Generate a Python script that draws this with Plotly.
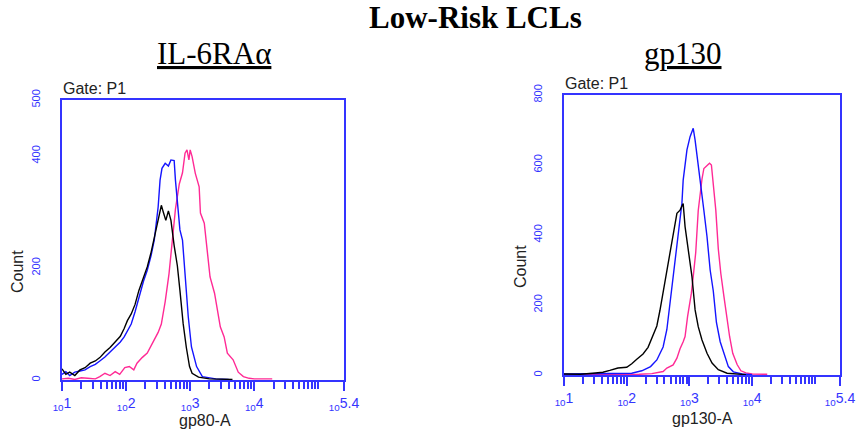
import numpy as np
import plotly.graph_objects as go

# ---------------- data (log10 fluorescence, count) ----------------
# Left panel: IL-6RAα (gp80-A)
L_black_log = [1.00, 1.06, 1.12, 1.20, 1.28, 1.36, 1.44, 1.52, 1.59, 1.67, 1.75, 1.83, 1.91, 1.97,
               2.02, 2.08, 2.14, 2.20, 2.27, 2.33, 2.39, 2.44, 2.50, 2.55, 2.58, 2.62, 2.66, 2.70,
               2.75, 2.80, 2.84, 2.89, 2.94, 2.99, 3.03, 3.13, 3.30, 3.50, 3.66]
L_black_cnt = [20, 10, 14, 8, 18, 22, 30, 34, 40, 50, 58, 68, 78, 92,
               106, 118, 135, 160, 185, 202, 228, 255, 290, 312, 300, 285, 302, 285,
               240, 204, 160, 101, 58, 24, 12, 5, 2, 1, 1]

L_blue_log = [1.00, 1.06, 1.12, 1.20, 1.28, 1.36, 1.44, 1.52, 1.59, 1.67, 1.75, 1.83, 1.91, 1.97,
              2.02, 2.08, 2.14, 2.20, 2.27, 2.33, 2.39, 2.44, 2.50, 2.53, 2.56, 2.61, 2.66, 2.70,
              2.75, 2.77, 2.81, 2.84, 2.88, 2.92, 2.97, 3.02, 3.10, 3.19, 3.40, 3.60]
L_blue_cnt = [10, 15, 8, 14, 16, 18, 24, 28, 34, 41, 50, 59, 68, 77,
              88, 100, 122, 148, 176, 196, 222, 250, 309, 357, 378, 387, 382, 393,
              392, 357, 309, 268, 250, 190, 113, 59, 24, 6, 2, 1]

L_pink_log = [1.00, 1.10, 1.20, 1.30, 1.40, 1.52, 1.59, 1.67, 1.75, 1.83, 1.90, 1.98, 2.05, 2.12,
              2.17, 2.25, 2.33, 2.42, 2.50, 2.55, 2.61, 2.67, 2.72, 2.77, 2.83, 2.88, 2.92, 2.95,
              2.98, 3.00, 3.03, 3.08, 3.14, 3.16, 3.22, 3.27, 3.31, 3.38, 3.42, 3.47, 3.53, 3.58,
              3.67, 3.75, 3.83, 3.92, 4.00, 4.28]
L_pink_cnt = [2, 3, 1, 4, 3, 2, 6, 12, 8, 15, 10, 22, 24, 18,
              30, 40, 48, 68, 85, 100, 140, 190, 250, 305, 350, 370, 405, 411,
              393, 411, 399, 369, 345, 298, 280, 220, 184, 155, 130, 95, 77, 48,
              36, 14, 6, 3, 2, 2]

# Right panel: gp130 (gp130-A)
R_black_log = [1.00, 1.26, 1.46, 1.62, 1.73, 1.86, 2.00, 2.08, 2.16, 2.26, 2.34, 2.42, 2.48, 2.53,
               2.58, 2.64, 2.69, 2.74, 2.80, 2.85, 2.87, 2.90, 2.93, 2.98, 3.04, 3.09, 3.14, 3.20,
               3.28, 3.36, 3.46, 3.60, 3.76, 3.90]
R_black_cnt = [3, 2, 5, 8, 13, 20, 22, 32, 45, 60, 79, 112, 140, 185,
               235, 290, 345, 400, 462, 471, 478, 490, 424, 357, 281, 186, 138, 100,
               62, 34, 15, 5, 2, 1]

R_blue_log = [1.00, 1.50, 2.00, 2.08, 2.24, 2.38, 2.48, 2.58, 2.64, 2.69, 2.74, 2.77, 2.82, 2.88,
              2.90, 2.96, 3.01, 3.04, 3.06, 3.09, 3.11, 3.13, 3.18, 3.23, 3.28, 3.33, 3.38, 3.43,
              3.49, 3.55, 3.62, 3.70, 3.84, 4.00]
R_blue_cnt = [3, 3, 3, 5, 12, 24, 43, 80, 130, 205, 270, 320, 395, 491,
              557, 643, 681, 695, 705, 671, 640, 610, 545, 470, 395, 300, 240, 150,
              95, 62, 24, 9, 3, 1]

R_pink_log = [1.00, 1.50, 2.00, 2.20, 2.40, 2.50, 2.58, 2.64, 2.69, 2.74, 2.80, 2.85, 2.90, 2.93,
              2.97, 3.03, 3.06, 3.10, 3.14, 3.17, 3.20, 3.23, 3.28, 3.32, 3.35, 3.39, 3.42, 3.46,
              3.50, 3.55, 3.60, 3.64, 3.69, 3.76, 3.82, 3.90, 4.00, 4.24]
R_pink_cnt = [1, 2, 1, 2, 4, 8, 10, 20, 24, 29, 48, 75, 95, 110,
              167, 233, 281, 350, 470, 520, 560, 590, 600, 605, 600, 530, 471, 360,
              290, 224, 160, 110, 62, 30, 12, 6, 3, 2]

x_major_exp = [1, 2, 3, 4, 5.4]
x_major_text = ["1", "2", "3", "4", "5.4"]
L_yticks = [0, 200, 400, 500]
R_yticks = [0, 200, 400, 600, 800]

# ---------------- styling ----------------
AX_BLUE = "#3434ff"
BLACK = "#000000"
BLUE = "#1414ff"
PINK = "#ff2a95"
SANS = "Liberation Sans, Arial, sans-serif"
SERIF = "Liberation Serif, Times New Roman, serif"
W, H = 856, 432

def px2x(p):
    return p / W

def px2y(p):
    return 1 - p / H

fig = go.Figure()

def add(logs, cnts, color, ax):
    fig.add_trace(go.Scatter(
        x=[10 ** v for v in logs], y=cnts, mode="lines",
        line=dict(color=color, width=1.4), xaxis=ax[0], yaxis=ax[1],
        showlegend=False, hoverinfo="skip"))

add(L_pink_log, L_pink_cnt, PINK, ("x", "y"))
add(L_blue_log, L_blue_cnt, BLUE, ("x", "y"))
add(L_black_log, L_black_cnt, BLACK, ("x", "y"))
add(R_pink_log, R_pink_cnt, PINK, ("x2", "y2"))
add(R_blue_log, R_blue_cnt, BLUE, ("x2", "y2"))
add(R_black_log, R_black_cnt, BLACK, ("x2", "y2"))

minor_vals = [m * 10 ** d for d in range(1, 5) for m in range(2, 10)] + [1e5]

def xaxis(domain, anchor):
    return dict(
        type="log", range=[1, 5.4], domain=domain, anchor=anchor, automargin=False,
        showgrid=False, zeroline=False,
        showline=True, linecolor=AX_BLUE, linewidth=2, mirror=True,
        tickmode="array", tickvals=[10 ** e for e in x_major_exp],
        ticktext=["<sub>10</sub>" + t for t in x_major_text],
        ticks="outside", ticklen=9, tickwidth=1.5, tickcolor=AX_BLUE,
        tickfont=dict(family=SANS, size=14, color=AX_BLUE),
        minor=dict(tickvals=minor_vals, ticks="outside", ticklen=7,
                   tickwidth=1.5, tickcolor=AX_BLUE, showgrid=False),
    )

def yaxis(domain, anchor, rng, ticks):
    return dict(
        range=rng, domain=domain, anchor=anchor, automargin=False,
        showgrid=False, zeroline=False,
        showline=True, linecolor=AX_BLUE, linewidth=2, mirror=True,
        tickmode="array", tickvals=ticks, ticktext=[str(t) for t in ticks],
        ticks="", tickangle=-90, ticklabelstandoff=16,
        tickfont=dict(family=SANS, size=11, color=AX_BLUE),
    )

fig.update_layout(
    width=W, height=H, margin=dict(l=0, r=0, t=0, b=0, autoexpand=False),
    paper_bgcolor="white", plot_bgcolor="white",
    xaxis=xaxis([px2x(62), px2x(344)], "y"),
    yaxis=yaxis([px2y(380), px2y(100)], "x", [0, 500], L_yticks),
    xaxis2=xaxis([px2x(564), px2x(840)], "y2"),
    yaxis2=yaxis([px2y(375), px2y(95)], "x2", [0, 800], R_yticks),
)

def ann(text, xp, yp, size, family=SANS, color="#222", xanchor="center", angle=0):
    fig.add_annotation(text=text, x=px2x(xp), y=px2y(yp), xref="paper", yref="paper",
                       xanchor=xanchor, yanchor="middle", showarrow=False, textangle=angle,
                       font=dict(family=family, size=size, color=color))

ann("<b>Low-Risk LCLs</b>", 475, 18, 31, SERIF, "black")
ann("<u>IL-6RAα</u>", 214, 53, 31, SERIF, "black")
ann("<u>gp130</u>", 683, 53, 31, SERIF, "black")
ann("Gate: P1", 61, 88, 16, xanchor="left")
ann("Gate: P1", 563, 84, 16, xanchor="left")
ann("Count", 17, 272, 16, angle=-90)
ann("Count", 520, 267, 16, angle=-90)
ann("gp80-A", 205, 420, 16)
ann("gp130-A", 702, 418, 16)

fig.write_html("out.html")
